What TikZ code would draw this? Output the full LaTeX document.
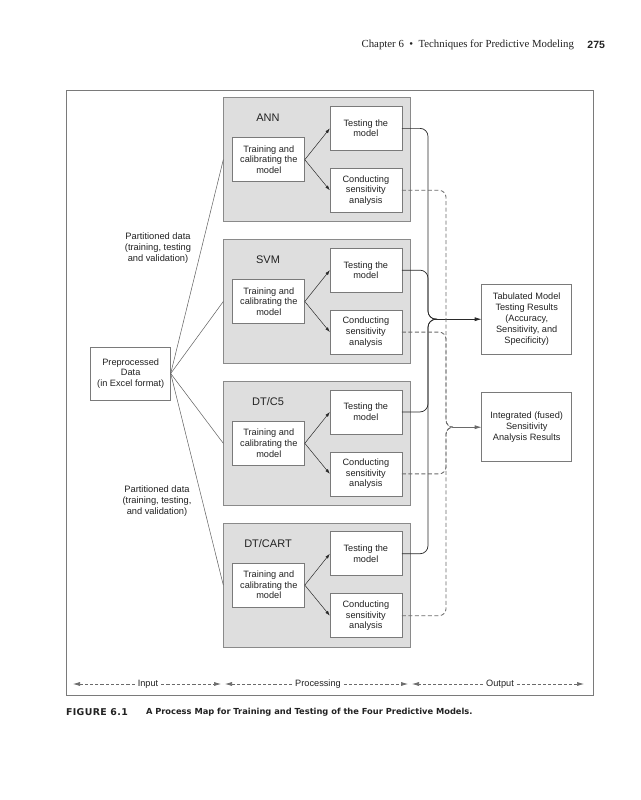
\documentclass[tikz,border=0pt]{standalone}
\usepackage{fontspec}
\setmainfont{Liberation Sans}
\newfontfamily\serifhead{Liberation Serif}
\newfontfamily\heavyfont{DejaVu Sans}
\usetikzlibrary{arrows.meta,calc}
\definecolor{txt}{HTML}{222222}
\definecolor{panelfill}{HTML}{DEDEDE}
\definecolor{panelborder}{HTML}{8A8A8A}
\definecolor{boxborder}{HTML}{7A7A7A}
\definecolor{framec}{HTML}{7A7A7A}
\definecolor{linec}{HTML}{2A2A2A}
\definecolor{dashc}{HTML}{6A6A6A}
\begin{document}
\begin{tikzpicture}[x=1pt,y=-1pt,
  every node/.style={inner sep=0pt, outer sep=0pt, text=txt},
  panel/.style={draw=panelborder, fill=panelfill, line width=0.8pt, minimum width=187.4pt, minimum height=124pt},
  ibox/.style={draw=boxborder, fill=white, line width=0.7pt, minimum width=72pt, minimum height=44pt, align=center, font=\fontsize{9.2}{10.6}\selectfont},
  obox/.style={draw=boxborder, fill=white, line width=0.7pt, minimum width=90pt, align=center, font=\fontsize{9.2}{11}\selectfont},
  plabel/.style={font=\fontsize{11}{13}\selectfont},
  note/.style={align=center, font=\fontsize{9.3}{10.8}\selectfont},
  axlabel/.style={font=\fontsize{9.2}{10}\selectfont, inner xsep=3pt},
  feed/.style={draw=linec!75, line width=0.5pt},
  inarrow/.style={draw=linec, line width=0.5pt, -{Latex[length=5pt,width=3.2pt]}},
  solidc/.style={draw=linec, line width=0.7pt, rounded corners=8pt},
  dashedc/.style={draw=dashc, line width=0.85pt, dash pattern=on 4pt off 2.5pt, rounded corners=7pt},
  outarrow/.style={line width=0.7pt, -{Latex[length=7pt,width=4pt]}},
  axline/.style={draw=dashc, line width=0.65pt, dash pattern=on 3.2pt off 2pt},
  axtip/.style={-{Latex[length=7pt,width=4pt]}},
]
\useasboundingbox (0,0) rectangle (640,800);
\fill[white] (0,0) rectangle (640,800);

% header
\node[anchor=east, font=\serifhead\fontsize{10.8}{12}\selectfont] (hdr) at (574,45) {Chapter 6\enspace\textbullet\enspace Techniques for Predictive Modeling};
\node[anchor=east, font=\bfseries\fontsize{10.5}{12}\selectfont] (pg) at (605,45) {275};

% frame
\draw[draw=framec, line width=0.8pt] (66.5,90.5) rectangle (593,695);

% panels
\foreach \i/\cy/\lab in {1/159.7/{ANN}, 2/301.5/{SVM}, 3/443.3/{DT/C5}, 4/585.1/{DT/CART}}{
  \node[panel] (g\i) at (317,\cy) {};
  \node[plabel] (l\i) at (268,\cy-42) {\lab};
  \node[ibox] (tr\i) at (268.8,\cy) {Training and\\calibrating the\\model};
  \node[ibox] (te\i) at (365.85,\cy-31.35) {Testing the\\model};
  \node[ibox] (co\i) at (365.85,\cy+30.6) {Conducting\\sensitivity\\analysis};
  \draw[inarrow] (tr\i.east) -- (te\i.west);
  \draw[inarrow] (tr\i.east) -- (co\i.west);
}

% preprocessed data
\node[ibox, minimum width=80pt, minimum height=53pt] (pre) at (130.7,373.5) {Preprocessed\\Data\\(in Excel format)};
\foreach \i in {1,2,3,4}{
  \draw[feed] (pre.east) -- (g\i.west);
}
\node[note] (p1) at (158,248) {Partitioned data\\(training, testing\\and validation)};
\node[note] (p2) at (157,501) {Partitioned data\\(training, testing,\\and validation)};

% output boxes
\node[obox, minimum height=70pt] (tab) at (526.7,319.2) {Tabulated Model\\Testing Results\\(Accuracy,\\Sensitivity, and\\Specificity)};
\node[obox, minimum height=69pt] (int) at (526.7,427.2) {Integrated (fused)\\Sensitivity\\Analysis Results};

% solid connectors
\coordinate (J1) at (437,319.2);
\foreach \i in {1,2,3,4}{
  \draw[solidc] (te\i.east) -- (te\i.east -| 428,0) -- (428,319.2) -- (J1);
}
\draw[linec, outarrow] (J1) -- (tab.west);

% dashed connectors
\coordinate (J2) at (453,427.2);
\foreach \i in {1,2,3,4}{
  \draw[dashedc] (co\i.east) -- (co\i.east -| 446,0) -- (446,427.2) -- (J2);
}
\draw[dashc, outarrow] (J2) -- (int.west);

% axis
\node[axlabel] (ain) at (148,684) {Input};
\node[axlabel] (apr) at (318,684) {Processing};
\node[axlabel] (aou) at (500,684) {Output};
\coordinate (a0) at (73,684);
\coordinate (a1) at (221,684);
\coordinate (a2) at (225,684);
\coordinate (a3) at (408,684);
\coordinate (a4) at (412,684);
\coordinate (a5) at (584,684);
\draw[axline, axtip] (ain.west) -- (a0);
\draw[axline, axtip] (ain.east) -- (a1);
\draw[axline, axtip] (apr.west) -- (a2);
\draw[axline, axtip] (apr.east) -- (a3);
\draw[axline, axtip] (aou.west) -- (a4);
\draw[axline, axtip] (aou.east) -- (a5);

% caption
\node[anchor=west, font=\heavyfont\bfseries\fontsize{9.4}{10}\selectfont\addfontfeature{LetterSpace=4}] (fig) at (66,712) {FIGURE 6.1};
\node[anchor=west, font=\heavyfont\bfseries\fontsize{8.3}{10}\selectfont] (cap) at (146,712) {A Process Map for Training and Testing of the Four Predictive Models.};
\end{tikzpicture}
\end{document}
